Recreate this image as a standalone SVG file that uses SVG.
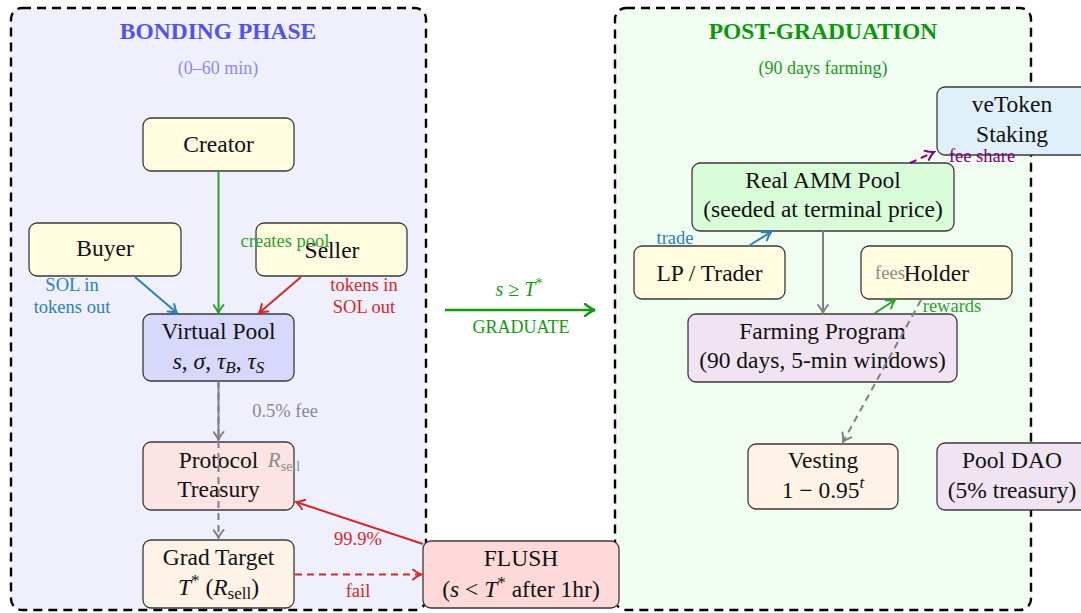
<svg xmlns="http://www.w3.org/2000/svg" width="1081" height="613" viewBox="0 0 1081 613">
<style>
text{font-family:"Liberation Serif","Times New Roman",serif;text-anchor:middle}
.n{font-size:23.5px;fill:#111}
.lb{font-size:18.5px}
.it{font-style:italic}
.box{stroke:#3a3a3a;stroke-width:1.3}
.panel{stroke:#000;stroke-width:2.4;stroke-dasharray:9 6}
.c{fill:none;stroke-width:2}
.dash{stroke-dasharray:7 5}
</style>
<defs>
<marker id="aG" viewBox="-10 -6 12 12" markerWidth="12" markerHeight="12" refX="0" refY="0" orient="auto" markerUnits="userSpaceOnUse"><path d="M-8,-5 Q-3,-1 0,0 Q-3,1 -8,5" fill="none" stroke="#2ca02c" stroke-width="2" stroke-linecap="round"/></marker>
<marker id="aB" viewBox="-10 -6 12 12" markerWidth="12" markerHeight="12" refX="0" refY="0" orient="auto" markerUnits="userSpaceOnUse"><path d="M-8,-5 Q-3,-1 0,0 Q-3,1 -8,5" fill="none" stroke="#2a7fc0" stroke-width="2" stroke-linecap="round"/></marker>
<marker id="aR" viewBox="-10 -6 12 12" markerWidth="12" markerHeight="12" refX="0" refY="0" orient="auto" markerUnits="userSpaceOnUse"><path d="M-8,-5 Q-3,-1 0,0 Q-3,1 -8,5" fill="none" stroke="#d62728" stroke-width="2" stroke-linecap="round"/></marker>
<marker id="aY" viewBox="-10 -6 12 12" markerWidth="12" markerHeight="12" refX="0" refY="0" orient="auto" markerUnits="userSpaceOnUse"><path d="M-8,-5 Q-3,-1 0,0 Q-3,1 -8,5" fill="none" stroke="#808080" stroke-width="2" stroke-linecap="round"/></marker>
<marker id="aP" viewBox="-10 -6 12 12" markerWidth="12" markerHeight="12" refX="0" refY="0" orient="auto" markerUnits="userSpaceOnUse"><path d="M-8,-5 Q-3,-1 0,0 Q-3,1 -8,5" fill="none" stroke="#800080" stroke-width="2" stroke-linecap="round"/></marker>
<marker id="aDG" viewBox="-12 -7 14 14" markerWidth="14" markerHeight="14" refX="0" refY="0" orient="auto" markerUnits="userSpaceOnUse"><path d="M-10,-6 Q-4,-1 0,0 Q-4,1 -10,6" fill="none" stroke="#139a13" stroke-width="2.4" stroke-linecap="round"/></marker>
</defs>

<g id="panel-bonding">
<rect class="panel" x="11" y="8" width="415" height="602" rx="11" fill="#f0f0fd"/>
<text x="218" y="39" style="font-size:23.5px;font-weight:bold;fill:#5252f0">BONDING PHASE</text>
<text x="218" y="74" style="font-size:18px;fill:#8a8af2">(0–60 min)</text>
</g>
<g id="panel-post">
<rect class="panel" x="615" y="8" width="416" height="602" rx="11" fill="#f2fdf2"/>
<text x="823" y="39" style="font-size:23.5px;font-weight:bold;fill:#0f960f">POST-GRADUATION</text>
<text x="823" y="74" style="font-size:18px;fill:#1a9a1a">(90 days farming)</text>
</g>

<g id="creator"><rect class="box" x="143" y="118" width="151" height="53" rx="8" fill="#fffce0"/><text class="n" x="218.5" y="152">Creator</text></g>
<g id="buyer"><rect class="box" x="29" y="223" width="152" height="53" rx="8" fill="#fffce0"/><text class="n" x="105" y="256">Buyer</text></g>
<g id="seller"><rect class="box" x="256" y="223" width="151" height="53" rx="8" fill="#fffce0"/><text class="n" x="332" y="258">Seller</text></g>
<g id="virtual-pool"><rect class="box" x="143" y="314" width="151" height="67" rx="8" fill="#d8d8fc"/><text class="n" x="218.5" y="339">Virtual Pool</text>
<text class="n" x="218.5" y="369" font-size="24"><tspan class="it">s</tspan>,  <tspan class="it">σ</tspan>,  <tspan class="it">τ</tspan><tspan class="it" font-size="17" dy="4">B</tspan><tspan dy="-4">,  </tspan><tspan class="it">τ</tspan><tspan class="it" font-size="17" dy="4">S</tspan></text></g>
<g id="protocol-treasury"><rect class="box" x="143" y="442" width="151" height="68" rx="8" fill="#fde4e4"/><text class="n" x="218.5" y="468">Protocol</text><text class="n" x="218.5" y="497">Treasury</text></g>
<g id="grad-target"><rect class="box" x="143" y="540" width="151" height="68" rx="8" fill="#fff2e6"/><text class="n" x="218.5" y="565">Grad Target</text>
<text class="n" x="218.5" y="595" font-size="24"><tspan class="it">T</tspan><tspan font-size="17" dy="-9">*</tspan><tspan dy="9"> (</tspan><tspan class="it">R</tspan><tspan font-size="17" dy="4">sell</tspan><tspan dy="-4">)</tspan></text></g>
<g id="flush"><rect class="box" x="423" y="541" width="196" height="67" rx="8" fill="#ffd9d9"/><text class="n" x="521" y="566">FLUSH</text>
<text class="n" x="521" y="597">(<tspan class="it">s</tspan> &lt; <tspan class="it">T</tspan><tspan font-size="17" dy="-9">*</tspan><tspan dy="9"> after 1hr)</tspan></text></g>

<g id="vetoken"><rect class="box" x="937" y="87" width="152" height="68" rx="8" fill="#e0f0fa"/><text class="n" x="1012" y="112">veToken</text><text class="n" x="1012" y="142">Staking</text></g>
<g id="real-amm"><rect class="box" x="692" y="163" width="262" height="68" rx="8" fill="#d9fcd9"/><text class="n" x="823" y="188">Real AMM Pool</text><text class="n" x="823" y="217">(seeded at terminal price)</text></g>
<g id="lp-trader"><rect class="box" x="634" y="246" width="151" height="53" rx="8" fill="#fffce0"/><text class="n" x="709.5" y="281">LP / Trader</text></g>
<g id="holder"><rect class="box" x="861" y="246" width="151" height="53" rx="8" fill="#fffce0"/><text class="n" x="936.5" y="281">Holder</text></g>
<g id="farming"><rect class="box" x="688" y="314" width="269" height="68" rx="8" fill="#f0e4f2"/><text class="n" x="822.5" y="339">Farming Program</text><text class="n" x="822.5" y="368">(90 days, 5-min windows)</text></g>
<g id="vesting"><rect class="box" x="748" y="444" width="150" height="65" rx="8" fill="#fff2e6"/><text class="n" x="823" y="468">Vesting</text>
<text class="n" x="823" y="498" font-size="24">1  −  0.95<tspan class="it" font-size="17" dy="-10">t</tspan></text></g>
<g id="pool-dao"><rect class="box" x="937" y="443" width="152" height="67" rx="8" fill="#f0e4f2"/><text class="n" x="1012" y="468">Pool DAO</text><text class="n" x="1012" y="498">(5% treasury)</text></g>

<g id="connectors">
<line class="c" x1="218.5" y1="171" x2="218.5" y2="313" stroke="#2ca02c" marker-end="url(#aG)"/>
<text class="lb" x="285" y="247" fill="#2ca02c">creates pool</text>
<line class="c" x1="135" y1="277" x2="177" y2="313" stroke="#2a7fc0" marker-end="url(#aB)"/>
<text class="lb" x="72" y="291" fill="#2a7fc0">SOL in</text>
<text class="lb" x="72" y="313" fill="#2a7fc0">tokens out</text>
<line class="c" x1="301" y1="277" x2="259" y2="313" stroke="#d62728" marker-end="url(#aR)"/>
<text class="lb" x="364" y="291" fill="#d62728">tokens in</text>
<text class="lb" x="364" y="313" fill="#d62728">SOL out</text>
<line class="c" x1="218.5" y1="381" x2="218.5" y2="440" stroke="#808080" marker-end="url(#aY)"/>
<text class="lb" x="285" y="417" fill="#8a8a8a">0.5% fee</text>
<line class="c dash" x1="218.5" y1="381" x2="218.5" y2="538" stroke="#808080" marker-end="url(#aY)"/>
<text class="lb" x="284" y="467" fill="#8a8a8a"><tspan class="it" font-size="21">R</tspan><tspan font-size="14" dy="4">sell</tspan></text>
<line class="c" x1="423" y1="544" x2="296" y2="502" stroke="#d62728" marker-end="url(#aR)"/>
<text class="lb" x="358" y="545" fill="#d62728">99.9%</text>
<line class="c dash" x1="295" y1="574.5" x2="421" y2="574.5" stroke="#d62728" marker-end="url(#aR)"/>
<text class="lb" x="358" y="597" fill="#d62728">fail</text>
<line x1="445" y1="310" x2="595" y2="310" stroke="#139a13" stroke-width="2.6" marker-end="url(#aDG)"/>
<text x="519" y="296" fill="#139a13" font-size="20"><tspan class="it">s</tspan>  ≥  <tspan class="it">T</tspan><tspan font-size="14" dy="-8">*</tspan></text>
<text x="521" y="333" style="font-size:18px;fill:#139a13">GRADUATE</text>

<line class="c dash" x1="910" y1="163" x2="934" y2="152" stroke="#800080" marker-end="url(#aP)"/>
<text class="lb" x="982" y="162" fill="#800080">fee share</text>
<line class="c" x1="750" y1="245" x2="771" y2="232" stroke="#2a7fc0" marker-end="url(#aB)"/>
<text class="lb" x="675" y="244" fill="#2a7fc0">trade</text>
<line class="c" x1="823" y1="231" x2="823" y2="313" stroke="#808080" marker-end="url(#aY)"/>
<text class="lb" x="890" y="279" fill="#8a8a8a">fees</text>
<line class="c" x1="875" y1="313" x2="895" y2="300" stroke="#2ca02c" marker-end="url(#aG)"/>
<text class="lb" x="952" y="312" fill="#2ca02c">rewards</text>
<line class="c dash" x1="921" y1="300" x2="843" y2="442" stroke="#808080" marker-end="url(#aY)"/>
</g>
</svg>
